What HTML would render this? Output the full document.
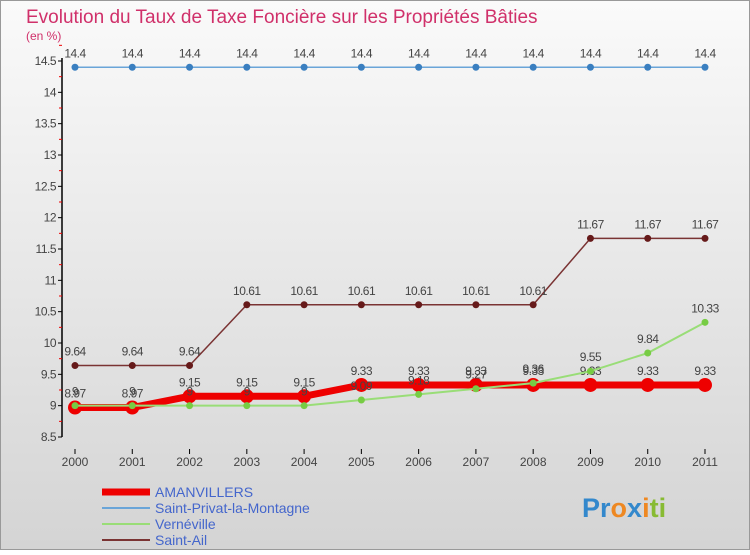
<!DOCTYPE html>
<html><head><meta charset="utf-8"><style>
body{margin:0;width:750px;height:550px;overflow:hidden;font-family:"Liberation Sans",sans-serif}
</style></head><body>
<svg width="750" height="550" xmlns="http://www.w3.org/2000/svg">
<defs><linearGradient id="bg" x1="0" y1="0" x2="0" y2="1"><stop offset="0" stop-color="#fafafa"/><stop offset="1" stop-color="#d4d4d4"/></linearGradient></defs>
<rect x="0.5" y="0.5" width="749" height="549" fill="url(#bg)" stroke="#999"/>
<text x="26" y="23" font-size="19" fill="#d0306a">Evolution du Taux de Taxe Foncière sur les Propriétés Bâties</text>
<text x="26" y="40" font-size="12" fill="#d0306a">(en %)</text>
<g id="axes"></g><g id="series"></g>
<g>
<line x1="102" y1="492" x2="150" y2="492" stroke="#ee0000" stroke-width="7"/>
<text x="155" y="497" font-size="14" fill="#4466cc">AMANVILLERS</text>
<line x1="102" y1="508" x2="150" y2="508" stroke="#6aa5d8" stroke-width="2"/>
<text x="155" y="513" font-size="14" fill="#4466cc">Saint-Privat-la-Montagne</text>
<line x1="102" y1="524" x2="150" y2="524" stroke="#99dd77" stroke-width="2"/>
<text x="155" y="529" font-size="14" fill="#4466cc">Vernéville</text>
<line x1="102" y1="540" x2="150" y2="540" stroke="#7a3333" stroke-width="2"/>
<text x="155" y="545" font-size="14" fill="#4466cc">Saint-Ail</text>
</g>
<text x="582" y="517" font-size="27" font-weight="bold"><tspan fill="#3388cc">Pr</tspan><tspan fill="#ee8822">o</tspan><tspan fill="#3388cc">x</tspan><tspan fill="#ee8822">i</tspan><tspan fill="#88bb33">ti</tspan></text>
</svg>
<script>
const years=["2000","2001","2002","2003","2004","2005","2006","2007","2008","2009","2010","2011"];
const yTicks=[8.5,9,9.5,10,10.5,11,11.5,12,12.5,13,13.5,14,14.5];
const amanvillers=[8.97,8.97,9.15,9.15,9.15,9.33,9.33,9.33,9.33,9.33,9.33,9.33];
const saintPrivat=[14.4,14.4,14.4,14.4,14.4,14.4,14.4,14.4,14.4,14.4,14.4,14.4];
const verneville=[9,9,9,9,9,9.09,9.18,9.27,9.36,9.55,9.84,10.33];
const saintAil=[9.64,9.64,9.64,10.61,10.61,10.61,10.61,10.61,10.61,11.67,11.67,11.67];
const NS="http://www.w3.org/2000/svg";
const X=i=>75+i*(630/11);
const Y=v=>437-(v-8.5)*(376/6);
function mk(t,a,p){const e=document.createElementNS(NS,t);for(const k in a)e.setAttribute(k,a[k]);p.appendChild(e);return e;}
const ax=document.getElementById('axes');
const axis=mk('line',{x1:62,y1:58,x2:62,y2:437,stroke:'#000','stroke-width':1.5},ax);


yTicks.forEach(v=>{
 mk('line',{x1:58,y1:Y(v),x2:62,y2:Y(v),stroke:'#000'},ax);
 mk('line',{x1:59,y1:Y(v+0.25),x2:62,y2:Y(v+0.25),stroke:'#e00'},ax);
 const t=mk('text',{x:56,y:Y(v)+4,'font-size':12,fill:'#444','text-anchor':'end','letter-spacing':'-0.5'},ax);
 t.textContent=v;
 
 
});
years.forEach((y,i)=>{
 mk('line',{x1:X(i),y1:449,x2:X(i),y2:454,stroke:'#000'},ax);
 const t=mk('text',{x:X(i),y:466,'font-size':12,fill:'#444','text-anchor':'middle'},ax);
 t.textContent=y;
 
 
});
const sg=document.getElementById('series');
function series(name,vals,col,w,r,dot){
 const g=mk('g',{},sg);
 
 
 mk('polyline',{points:vals.map((v,i)=>X(i)+','+Y(v)).join(' '),fill:'none',stroke:col,'stroke-width':w},g);
 vals.forEach((v,i)=>{
  const c=mk('circle',{cx:X(i),cy:Y(v),r:r,fill:dot},g);
  
  
  const t=mk('text',{x:X(i),y:Y(v)-10,'font-size':12,fill:'#444','text-anchor':'middle','letter-spacing':'-0.5'},g);
  t.textContent=v;
  
  
 });
}
series('saint-privat-series',saintPrivat,'#6aa5d8',1.5,3.5,'#3a7fc0');
series('saint-ail-series',saintAil,'#7a3333',1.5,3.5,'#661a1a');
series('amanvillers-series',amanvillers,'#ee0000',7,7,'#ee0000');
series('verneville-series',verneville,'#99dd77',2,3.5,'#77cc44');
</script>
</body></html>
